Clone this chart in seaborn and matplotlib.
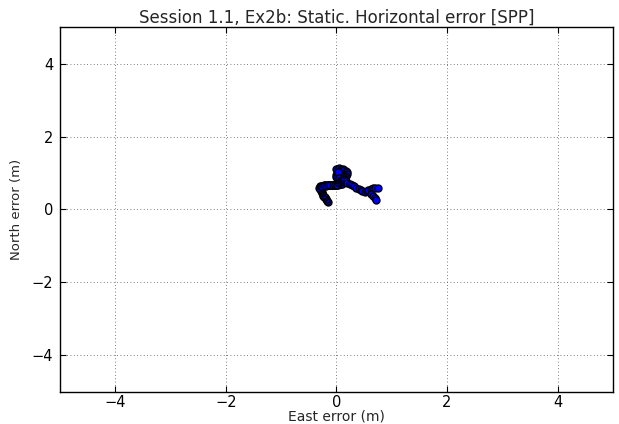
import matplotlib
matplotlib.use("Agg")
import matplotlib.pyplot as plt
import seaborn as sns
import pandas as pd

# Horizontal position error samples (East, North) in metres
east = [
    # tail to lower-left hook
    -0.16, -0.17, -0.18, -0.19, -0.20, -0.22, -0.24, -0.25, -0.26, -0.27,
    -0.28, -0.28, -0.28, -0.29, -0.29, -0.30, -0.30,
    # horizontal band
    -0.31, -0.30, -0.28, -0.26, -0.24, -0.22, -0.20, -0.18, -0.16, -0.14,
    -0.12, -0.10, -0.08, -0.06, -0.04, -0.02, 0.00, 0.02, 0.04, 0.06,
    0.08, 0.10, -0.27, -0.23, -0.19, -0.15, -0.11, -0.07, -0.03, 0.01,
    # rise to loop
    0.04, 0.03, 0.02, 0.01, 0.00, 0.00, 0.01, 0.02,
    # loop
    0.00, 0.02, 0.05, 0.08, 0.11, 0.14, 0.17, 0.19, 0.20, 0.18, 0.15,
    0.12, 0.09, 0.06, 0.04, 0.02, 0.05, 0.08, 0.10, 0.13, 0.15, 0.16,
    0.12, 0.14, 0.18,
    # blue trail to the east
    0.20, 0.24, 0.28, 0.32, 0.36, 0.40, 0.44, 0.47, 0.51, 0.55, 0.58,
    0.62, 0.66, 0.70, 0.75, 0.63, 0.66, 0.69, 0.72,
]
north = [
    0.20, 0.24, 0.28, 0.30, 0.33, 0.35, 0.38, 0.41, 0.44, 0.47,
    0.50, 0.53, 0.56, 0.58, 0.60, 0.56, 0.62,
    0.60, 0.63, 0.64, 0.65, 0.65, 0.66, 0.66, 0.66, 0.67, 0.67,
    0.67, 0.67, 0.68, 0.68, 0.68, 0.68, 0.68, 0.68, 0.69, 0.69,
    0.70, 0.71, 0.61, 0.64, 0.65, 0.66, 0.66, 0.67, 0.67, 0.68,
    0.72, 0.76, 0.80, 0.85, 0.90, 0.95, 1.00, 1.05,
    1.10, 1.12, 1.13, 1.12, 1.11, 1.09, 1.06, 1.02, 0.97, 0.93, 0.90,
    0.90, 0.92, 0.95, 0.98, 1.02, 0.86, 0.82, 0.78, 0.75, 0.78, 0.82,
    0.84, 0.80, 0.77,
    0.73, 0.70, 0.66, 0.63, 0.60, 0.57, 0.53, 0.50, 0.49, 0.50, 0.52,
    0.55, 0.58, 0.60, 0.60, 0.42, 0.37, 0.31, 0.25,
]

x_ticks = [-4, -2, 0, 2, 4]
y_ticks = [-4, -2, 0, 2, 4]

df = pd.DataFrame({"east": east, "north": north})

sns.set_style("white")
fig = plt.figure(figsize=(6.19, 4.24), dpi=100)
ax = fig.add_axes([0.097, 0.076, 0.893, 0.860])

sns.scatterplot(data=df, x="east", y="north", ax=ax, color="#0000ff",
                edgecolor="#000000", linewidth=0.9, s=26, zorder=3)

ax.set_xlim(-5, 5)
ax.set_ylim(-5, 5)
ax.set_xticks(x_ticks)
ax.set_yticks(y_ticks)
ax.set_xticklabels([str(t).replace("-", "\u2212") for t in x_ticks])
ax.set_yticklabels([str(t).replace("-", "\u2212") for t in y_ticks])
ax.grid(True, color="#555555", linestyle=(0, (1, 3)), linewidth=0.6)
ax.tick_params(direction="in", length=4, width=0.8, top=True, right=True,
               bottom=True, left=True, labelsize=10.5, colors="black")
ax.tick_params(axis="x", pad=2)
ax.tick_params(axis="y", pad=5)
for sp in ax.spines.values():
    sp.set_color("black")
    sp.set_linewidth(1.0)

ax.set_title("Session 1.1, Ex2b: Static. Horizontal error [SPP]", fontsize=12, pad=3)
ax.set_xlabel("East error (m)", fontsize=10, labelpad=0)
ax.set_ylabel("North error (m)", fontsize=9.5, labelpad=6)

fig.savefig("out.png", dpi=100)
